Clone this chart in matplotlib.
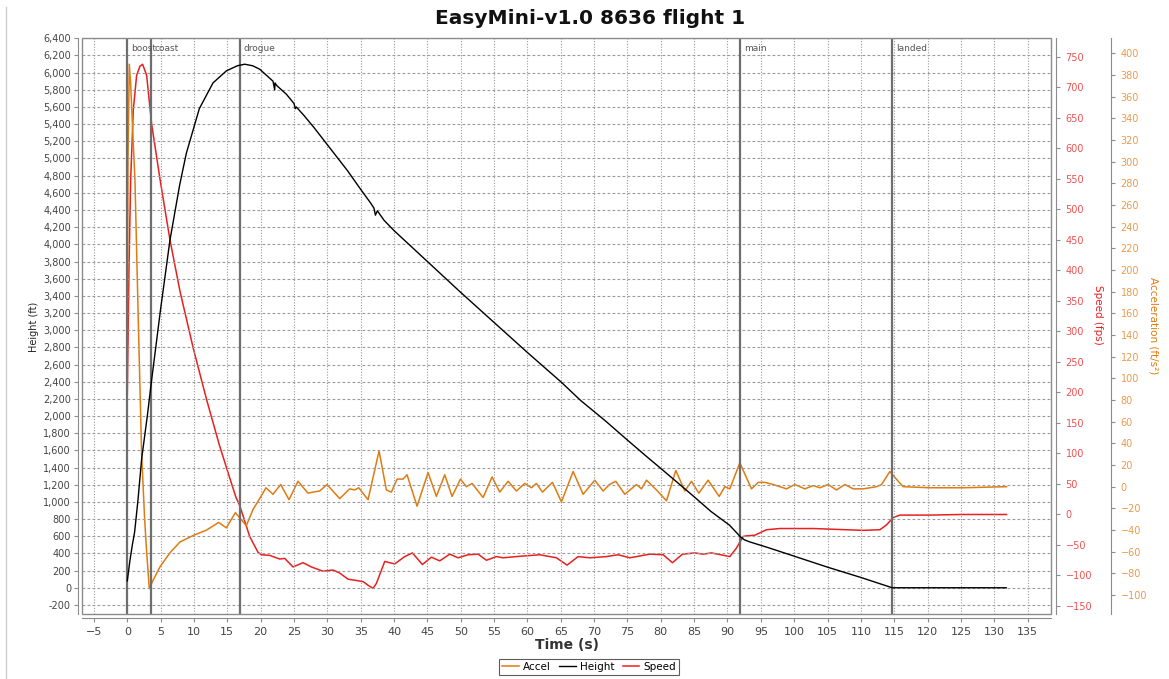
import matplotlib.pyplot as plt
from matplotlib.lines import Line2D
from matplotlib.patches import Rectangle
from matplotlib.ticker import FuncFormatter, MultipleLocator

# flight data
height_t = [0, 0.4, 0.8, 0.9, 1.1, 1.6, 2.15, 3.0, 3.65, 5.0, 6.4, 7.85, 8.85, 10.8, 12.85,
            14.85, 16.5, 17.6, 18.8, 19.85, 21.0, 21.85, 22.1, 22.15, 22.4, 23.85, 25.0, 25.2,
            25.35, 26.5, 28.0, 30.0, 31.5, 33.0, 35.0, 36.5, 37.0, 37.2, 37.5, 38.5, 40.0, 42.5,
            45.0, 47.5, 50.0, 52.5, 55.0, 57.5, 60.0, 62.5, 65.0, 68.0, 71.6, 75.0, 78.0, 80.0,
            82.5, 85.0, 87.5, 90.3, 91.95, 92.5, 93.3, 96.0, 100.0, 105.0, 110.0, 114.7, 120.0,
            125.0, 131.8]
heights = [80, 320, 520, 560, 650, 1020, 1500, 2000, 2420, 3250, 4050, 4690, 5060, 5580, 5880,
           6020, 6080, 6098, 6080, 6040, 5960, 5900, 5800, 5880, 5850, 5749, 5640, 5580,
           5600, 5500, 5360, 5160, 5010, 4860, 4640, 4480, 4420, 4340, 4390, 4280, 4160, 3980,
           3800, 3620, 3440, 3265, 3090, 2915, 2740, 2570, 2400, 2180, 1950, 1720, 1520, 1390,
           1225, 1060, 890, 729, 593, 560, 535, 470, 368, 240, 120, 0, 0,
           0, 0]

speed_t = [0, 0.25, 0.5, 0.9, 1.4, 1.9, 2.3, 2.9, 3.65, 4.9, 6.4, 7.9, 9.9, 11.9, 13.8, 15.3,
           16.3, 16.85, 18.35, 19.6, 20.1, 21.35, 22.85, 23.6, 24.85, 26.35, 27.6, 29.35, 30.85,
           31.85, 33.1, 35.35, 36.1, 36.85, 37.35, 38.6, 40.1, 41.6, 42.75, 44.25, 45.6, 46.85,
           48.35, 49.6, 51.1, 52.6, 53.85, 55.35, 56.35, 58.35, 61.85, 64.35, 65.95, 67.6, 69.35,
           71.85, 73.6, 75.35, 78.35, 80.35, 81.75, 83.25, 85.1, 86.35, 87.6, 90.35, 91.35, 92.35,
           92.85, 94.1, 95.85, 97.85, 100.35, 102.85, 105.35, 107.85, 110.35, 112.85, 113.85,
           114.85, 115.85, 120.35, 125.0, 131.85]
speeds = [196, 400, 548, 663, 720, 735, 738, 720, 640, 550, 450, 366, 272, 188, 114, 62,
          28, 15, -36, -62, -66, -67, -73, -72, -86, -79, -86, -93, -91,
          -96, -106, -110, -116, -121, -113, -77, -81, -69, -63, -82, -70, -76,
          -65, -71, -66, -65, -75, -69, -71, -69, -66, -71, -83, -69, -71,
          -69, -66, -71, -65, -66, -79, -65, -63, -65, -63, -69, -55, -36,
          -35, -34, -25, -23, -23, -23, -24, -25, -26, -25, -17,
          -5, -1, -1, 0, 0]

accel_t = [0, 0.1, 0.3, 0.5, 0.8, 1.15, 1.65, 2.15, 2.6, 2.9, 3.3, 3.9, 4.9, 6.4, 7.9, 9.9,
           11.9, 13.7, 14.85, 16.2, 17.85, 18.85, 19.85, 20.8, 21.85, 23.0, 24.25, 25.6, 27.1,
           27.85, 28.85, 29.95, 31.85, 33.35, 34.1, 34.7, 36.1, 37.75, 38.85, 39.6, 40.45, 41.35,
           41.95, 43.45, 45.1, 46.35, 47.6, 48.7, 49.95, 50.85, 51.7, 53.35, 54.7, 55.85, 57.1,
           58.35, 59.6, 60.6, 61.35, 62.25, 63.75, 65.1, 66.85, 68.35, 70.1, 71.35, 72.3, 73.25,
           74.6, 76.35, 77.1, 77.85, 79.35, 80.85, 82.25, 83.6, 84.6, 85.7, 87.1, 88.75, 89.6,
           90.35, 91.85, 93.6, 94.6, 95.6, 96.85, 98.85, 100.1, 101.6, 102.85, 103.85, 105.1,
           106.35, 107.6, 108.85, 110.35, 112.35, 113.1, 114.35, 115.6, 116.35, 120.35, 125.35,
           131.85]
accels = [137, 300, 390, 372, 330, 283, 153, 30, -30, -60, -94, -86, -74, -61, -51, -45,
          -40, -33, -38, -24, -36, -21, -11, -1, -7, 2, -12, 5, -6,
          -5, -4, 2, -11, -2, -3, -1, -12, 33, -3, -5, 7, 7,
          11, -18, 13, -9, 11, -9, 7, 0, 3, -10, 9, -5, 5,
          -4, 3, -1, 3, -5, 4, -14, 14, -7, 6, -4, 2, 5,
          -7, 2, -2, 6, -3, -13, 15, -4, 5, -6, 6, -9, 0,
          -2, 22, -2, 4, 4, 2, -2, 2, -2, 1, -1, 2,
          -3, 2, -2, -2, 0, 2, 14, 5, 0, -1, -1,
          0]

events = ["boost", "coast", "drogue", "main", "landed"]
event_t = [0, 3.6, 16.85, 91.95, 114.7]

ORANGE = "#e07b10"
RED = "#e8201e"
GRAY = "#8c8c8c"
TXT = "#444444"
PX = 72 / 100  # points per pixel

fig = plt.figure(figsize=(11.69, 6.79), dpi=100)
ax = fig.add_axes([0.0701, 0.0953, 0.8289, 0.8492])
ax_s = ax.twinx()
ax_a = ax.twinx()

ax.set_xlim(-6.8, 138.5)
ax.set_ylim(-309, 6407)
ax_s.set_ylim(-163.6, 781.6)
ax_a.set_ylim(-117.8, 414.5)

# grid
ax.xaxis.set_major_locator(MultipleLocator(5))
ax.yaxis.set_major_locator(MultipleLocator(200))
ax.grid(axis="y", color="#9a9a9a", linestyle=(0, (2.5, 2)), linewidth=0.8)
ax.grid(axis="x", color="#9a9a9a", linestyle=(0, (1, 1.5)), linewidth=0.8)
ax.yaxis.set_major_formatter(FuncFormatter(lambda v, p: f"{int(v):,}"))

# event markers
for name, t in zip(events, event_t):
    ax.axvline(t, color="#6e6e6e", linewidth=1.6, zorder=2)
    ax.text(t + 0.55, 6330, name, fontsize=6.5, color="#555555", va="top", ha="left")

# series
ax_a.plot(accel_t, accels, color=ORANGE, linewidth=1.1, label="Accel")
ax.plot(height_t, heights, color="black", linewidth=1.0, label="Height", zorder=3)
ax_s.plot(speed_t, speeds, color=RED, linewidth=1.1, label="Speed")
ax.set_zorder(3)
ax.patch.set_visible(False)

# spines
for a in (ax, ax_s, ax_a):
    for sp in a.spines.values():
        sp.set_visible(False)
ax.spines["left"].set_visible(True)
ax.spines["bottom"].set_visible(True)
ax.spines["left"].set_position(("outward", 4 * PX))
ax.spines["bottom"].set_position(("outward", 4 * PX))
ax.spines["left"].set_color(GRAY)
ax.spines["bottom"].set_color(GRAY)
ax_s.spines["right"].set_visible(True)
ax_s.spines["right"].set_position(("outward", 5 * PX))
ax_s.spines["right"].set_color(GRAY)
ax_a.spines["right"].set_visible(True)
ax_a.spines["right"].set_position(("outward", 60 * PX))
ax_a.spines["right"].set_color(GRAY)
ax.add_patch(Rectangle((0, 0), 1, 1, transform=ax.transAxes, fill=False,
                       edgecolor=GRAY, linewidth=1.0, clip_on=False, zorder=5))

ax.tick_params(axis="y", labelsize=7, colors=GRAY, labelcolor=TXT, length=3, pad=2)
ax.tick_params(axis="x", labelsize=8, colors=GRAY, labelcolor=TXT, length=3, pad=3)
ax_s.yaxis.set_major_locator(MultipleLocator(50))
ax_s.tick_params(axis="y", labelsize=7, colors=GRAY, labelcolor="#f05050", length=3, pad=4)
ax_a.yaxis.set_major_locator(MultipleLocator(20))
ax_a.tick_params(axis="y", labelsize=7, colors=GRAY, labelcolor="#eb9a4a", length=3, pad=4)

# labels
fig.text(0.505, 0.973, "EasyMini-v1.0 8636 flight 1", fontsize=14.5, fontweight="bold",
         ha="center", va="center", color="#111111")
fig.text(0.485, 0.050, "Time (s)", fontsize=10, fontweight="bold", ha="center",
         va="center", color="#333333")
fig.text(0.029, 0.518, "Height (ft)", fontsize=7, rotation=90, ha="center", va="center",
         color="#222222")
fig.text(0.939, 0.536, "Speed (fps)", fontsize=7.5, rotation=270, ha="center", va="center",
         color=RED)
fig.text(0.9865, 0.521, "Acceleration (ft/s\u00b2)", fontsize=7.5, rotation=270,
         ha="center", va="center", color=ORANGE)

handles = [Line2D([], [], color=ORANGE, linewidth=1.1),
           Line2D([], [], color="black", linewidth=1.0),
           Line2D([], [], color=RED, linewidth=1.1)]
leg = fig.legend(handles, ["Accel", "Height", "Speed"], loc="center",
                 bbox_to_anchor=(0.504, 0.0175), ncol=3, fontsize=7.5, frameon=True,
                 fancybox=False, edgecolor="#333333", handlelength=1.6,
                 columnspacing=0.8, handletextpad=0.4, borderpad=0.3)
leg.get_frame().set_linewidth(0.8)

fig.add_artist(Line2D([0.0055, 0.0055], [0, 0.99], color="#cccccc", linewidth=1))

fig.savefig("out.png", dpi=100)
